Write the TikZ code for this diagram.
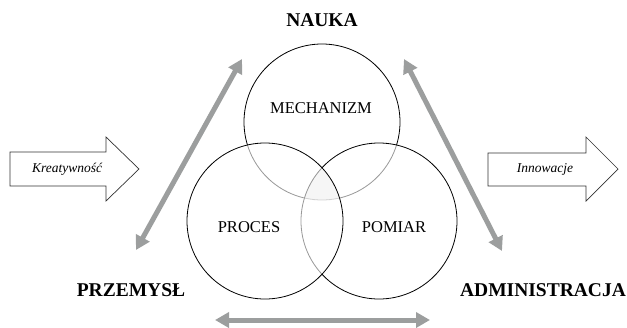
\documentclass[tikz,border=0pt]{standalone}
\usepackage{fontspec}
\setmainfont{Liberation Serif}
\usetikzlibrary{arrows.meta}
\definecolor{linkgray}{HTML}{9C9E9E}
\tikzset{
  set/.style={circle, draw=black, line width=0.8pt, fill=white, fill opacity=0.6, text opacity=1, minimum size=156pt, inner sep=0pt},
  setlabel/.style={font=\fontsize{16.5}{18}\selectfont},
  sector/.style={font=\bfseries\fontsize{19.5}{21}\selectfont},
  blockarrow/.style={draw=black!80, line width=0.7pt, fill=white},
  flowtext/.style={font=\itshape\fontsize{13.5}{15}\selectfont},
  link/.style={draw=linkgray, line width=5pt, {Triangle[width=15pt,length=14pt]}-{Triangle[width=15pt,length=14pt]}}
}
\begin{document}
\begin{tikzpicture}[x=1pt, y=-1pt]
\useasboundingbox (0,0) rectangle (627,327);

% three overlapping sets
\node[set] (mech) at (322,122) {};
\node[set] (pom) at (379,221) {};
\node[set] (proc) at (265,221) {};
\begin{scope}
  \clip (322,122) circle (78);
  \clip (379,221) circle (78);
  \fill[black, opacity=0.035] (265,221) circle (78);
\end{scope}

\node[setlabel] (mtxt) at (321,108) {MECHANIZM};
\node[setlabel] (ptxt) at (249,227) {PROCES};
\node[setlabel] (otxt) at (394,227) {POMIAR};

% sectors
\node[sector] (nauka) at (322,20) {NAUKA};
\node[sector] (przem) at (131,290) {PRZEMYSŁ};
\node[sector] (admin) at (543,290) {ADMINISTRACJA};

% two-way links between sectors
\coordinate (lA) at (136,250);
\coordinate (lB) at (242,59);
\coordinate (rA) at (404,59);
\coordinate (rB) at (502,251);
\coordinate (bA) at (215,320);
\coordinate (bB) at (430,320);
\draw[link] (lA) -- (lB);
\draw[link] (rA) -- (rB);
\draw[link] (bA) -- (bB);

% input and output
\draw[blockarrow] (10,152) -- (106,152) -- (106,137) -- (139,169) -- (106,201) -- (106,186) -- (10,186) -- cycle;
\node[flowtext] (kre) at (67,169) {Kreatywność};
\draw[blockarrow] (488,153) -- (586,153) -- (586,137) -- (618,169) -- (586,201) -- (586,186) -- (488,186) -- cycle;
\node[flowtext] (inn) at (545,169) {Innowacje};
\end{tikzpicture}
\end{document}
